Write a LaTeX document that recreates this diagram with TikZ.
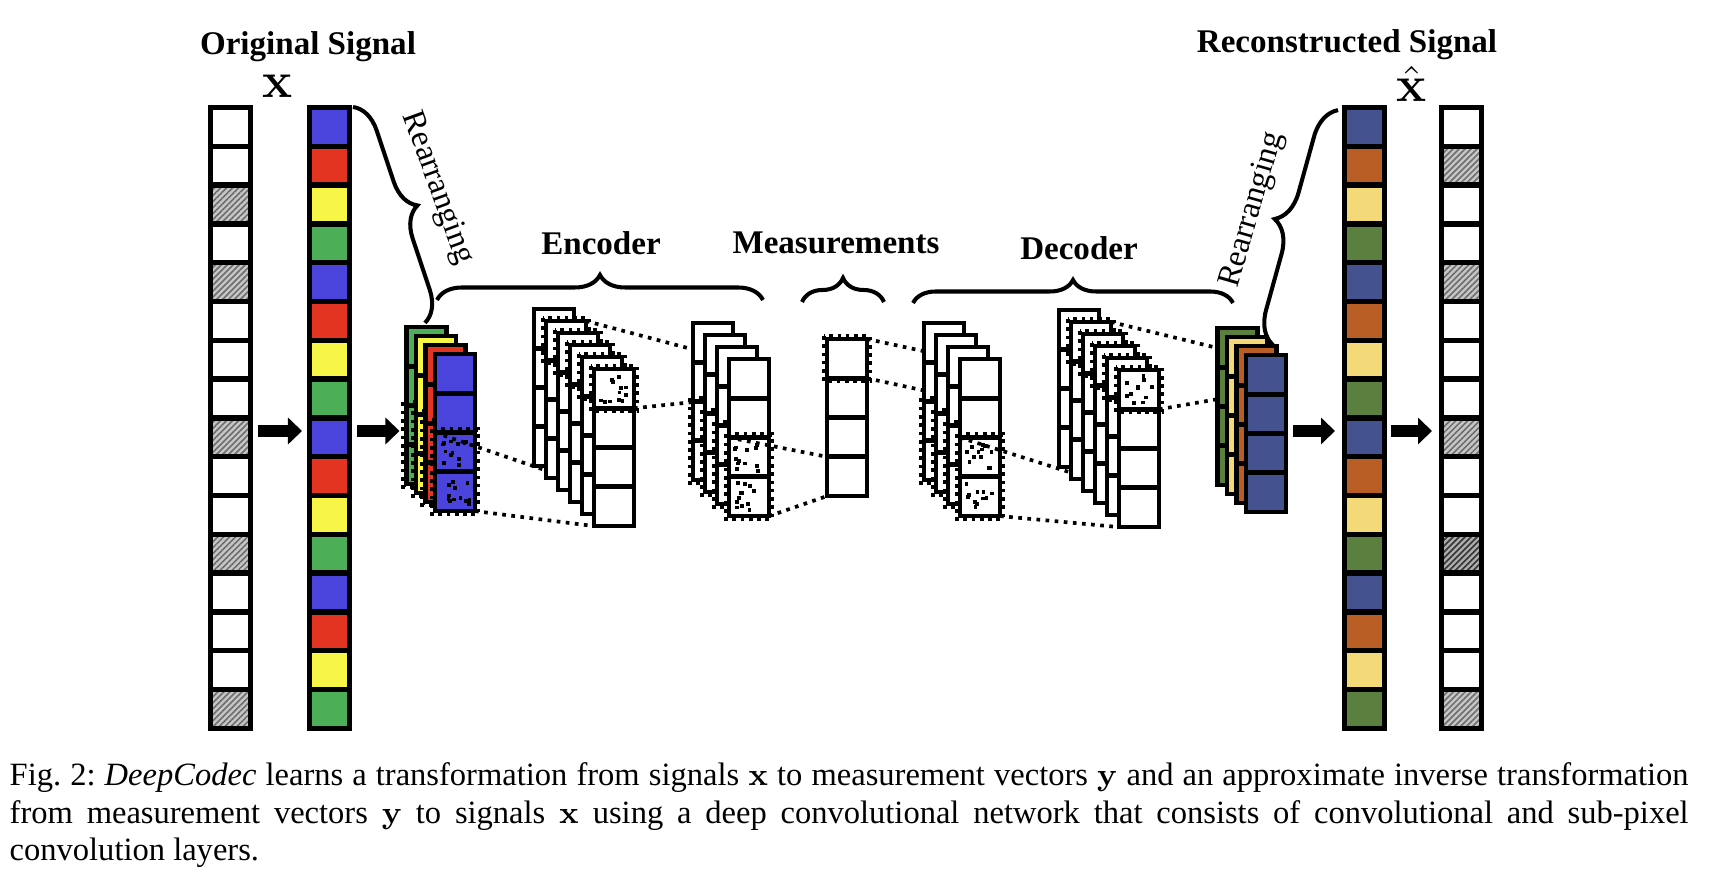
\documentclass[tikz,border=0pt]{standalone}
\usepackage[no-math]{fontspec}
\setmainfont{Liberation Serif}
\usetikzlibrary{calc,decorations.pathreplacing,patterns.meta,arrows.meta}
\definecolor{cB}{HTML}{4A44DC}
\definecolor{cR}{HTML}{E33321}
\definecolor{cY}{HTML}{F7F545}
\definecolor{cG}{HTML}{4DAE58}
\definecolor{dB}{HTML}{44538F}
\definecolor{dO}{HTML}{B85E25}
\definecolor{dY}{HTML}{F3D978}
\definecolor{dG}{HTML}{5A7F3E}
\pgfdeclarelayer{l1}\pgfdeclarelayer{l2}\pgfdeclarelayer{l3}\pgfdeclarelayer{l4}
\pgfdeclarelayer{l5}\pgfdeclarelayer{l6}\pgfdeclarelayer{l7}
\pgfsetlayers{main,l1,l2,l3,l4,l5,l6,l7}
\tikzset{
  colbox/.style={draw, line width=1.5pt, minimum width=0.4cm, minimum height=6.208cm, inner sep=0pt, outer sep=0pt},
  colline/.style={line width=1.5pt},
  layerbox/.style={draw, line width=1.35pt, minimum width=0.4cm, minimum height=1.57cm, inner sep=0pt, outer sep=0pt},
  layline/.style={line width=1.35pt},
  dotbox/.style={line width=1.15pt, dash pattern=on 1.05pt off 1.3pt},
  conn/.style={line width=1.05pt, dash pattern=on 1.05pt off 1.55pt},
  fat/.style={line width=3.4pt, -{Triangle[length=0.14cm,width=0.26cm]}},
  brc/.style={decorate, line width=1.15pt},
  hdr/.style={font=\fontsize{9.4pt}{11pt}\selectfont\bfseries, inner sep=0pt},
  rr/.style={font=\fontsize{9.2pt}{11pt}\selectfont, inner sep=0pt},
  mx/.style={font=\fontsize{15pt}{18pt}\selectfont, inner sep=0pt},
  gH/.style={fill=gray!45, postaction={pattern={Lines[angle=45,distance=1.2pt,line width=0.45pt]}, pattern color=gray!85!black}},
  gD/.style={fill=gray!65, postaction={pattern={Lines[angle=45,distance=1.2pt,line width=0.45pt]}, pattern color=gray!40!black}},
}
% signal column: name, x, y, list of index/colour
\newcommand\sigcol[4]{%
  \foreach \i/\c in {#4} {\fill[\c] (#2,{#3+\i*38.8}) rectangle ++(40,38.8);}
  \node[colbox, anchor=north west] (#1) at (#2,#3) {};
  \foreach \k in {1,...,15} {\draw[colline] (#2,{#3+\k*38.8}) -- ++(40,0);}
}
% layer of 4 cells: name, x, y, fill
\newcommand\nnlayer[4]{%
  \node[layerbox, fill=#4, anchor=north west] (#1) at (#2,#3) {};
  \foreach \k in {1,2,3} {\draw[layline] (#2,{#3+\k*39.25}) -- ++(40,0);}
}
% dotted box: x, y, number of cells, first cell
\newcommand\dotbx[4]{\draw[dotbox] ({#1-3},{#2+#4*39.25-3}) rectangle ({#1+43},{#2+(#4+#3)*39.25+3});}
% random dots in one cell: x, y of cell
\newcommand\rnddots[2]{%
  \foreach \q in {1,...,12} {%
    \pgfmathsetmacro\rx{#1+4+29*rnd}\pgfmathsetmacro\ry{#2+4+28*rnd}%
    \fill (\rx,\ry) rectangle ++(3.8,3.8);}
}
\begin{document}
\begin{tikzpicture}[x=0.01cm,y=-0.01cm]
\useasboundingbox (0,0) rectangle (1718,880);
\pgfmathsetseed{7}
\coordinate (ay) at (0,431);

% ---------- signal columns ----------
\sigcol{xin}{210.5}{107.5}{0/white,1/white,2/gH,3/white,4/gH,5/white,6/white,7/white,8/gH,9/white,10/white,11/gH,12/white,13/white,14/white,15/gH}
\sigcol{xc}{309.5}{107.5}{0/cB,1/cR,2/cY,3/cG,4/cB,5/cR,6/cY,7/cG,8/cB,9/cR,10/cY,11/cG,12/cB,13/cR,14/cY,15/cG}
\sigcol{rc}{1344.5}{107.5}{0/dB,1/dO,2/dY,3/dG,4/dB,5/dO,6/dY,7/dG,8/dB,9/dO,10/dY,11/dG,12/dB,13/dO,14/dY,15/dG}
\sigcol{xout}{1441.5}{107.5}{0/white,1/gH,2/white,3/white,4/gH,5/white,6/white,7/white,8/gH,9/white,10/white,11/gD,12/white,13/white,14/white,15/gH}

% ---------- stack 1 (rearranged input) ----------
\begin{pgfonlayer}{l1}
\foreach \j/\c in {0/cG,1/cY,2/cR,3/cB} {
  \pgfmathsetmacro\lx{435-(3-\j)*9.5}\pgfmathsetmacro\ly{354-(3-\j)*9}
  \nnlayer{s1-\j}{\lx}{\ly}{\c}
  \dotbx{\lx}{\ly}{2}{2}
}
\rnddots{435}{432.5}\rnddots{435}{471.75}
\end{pgfonlayer}

% ---------- stack 2 ----------
\begin{pgfonlayer}{l2}
\foreach \j in {0,...,5} {
  \pgfmathsetmacro\lx{594-(5-\j)*12}\pgfmathsetmacro\ly{369-(5-\j)*12}
  \nnlayer{s2-\j}{\lx}{\ly}{white}
  \ifnum\j>0 \dotbx{\lx}{\ly}{1}{0}\fi
}
\rnddots{594}{369}
\end{pgfonlayer}

% ---------- stack 3 ----------
\begin{pgfonlayer}{l3}
\foreach \j in {0,...,3} {
  \pgfmathsetmacro\lx{729-(3-\j)*12}\pgfmathsetmacro\ly{359-(3-\j)*12}
  \nnlayer{s3-\j}{\lx}{\ly}{white}
  \dotbx{\lx}{\ly}{2}{2}
}
\rnddots{729}{437.5}\rnddots{729}{476.75}
\end{pgfonlayer}

% ---------- measurements ----------
\begin{pgfonlayer}{l4}
\nnlayer{m}{827}{339}{white}
\dotbx{827}{339}{1}{0}
\end{pgfonlayer}

% ---------- stack 4 ----------
\begin{pgfonlayer}{l5}
\foreach \j in {0,...,3} {
  \pgfmathsetmacro\lx{960-(3-\j)*12}\pgfmathsetmacro\ly{359-(3-\j)*12}
  \nnlayer{s4-\j}{\lx}{\ly}{white}
  \dotbx{\lx}{\ly}{2}{2}
}
\rnddots{960}{437.5}\rnddots{960}{476.75}
\end{pgfonlayer}

% ---------- stack 5 ----------
\begin{pgfonlayer}{l6}
\foreach \j in {0,...,5} {
  \pgfmathsetmacro\lx{1119-(5-\j)*12}\pgfmathsetmacro\ly{370-(5-\j)*12}
  \nnlayer{s5-\j}{\lx}{\ly}{white}
  \ifnum\j>0 \dotbx{\lx}{\ly}{1}{0}\fi
}
\rnddots{1119}{370}
\end{pgfonlayer}

% ---------- stack 6 (rearranged output) ----------
\begin{pgfonlayer}{l7}
\foreach \j/\c in {0/dG,1/dY,2/dO,3/dB} {
  \pgfmathsetmacro\lx{1246-(3-\j)*9.5}\pgfmathsetmacro\ly{355-(3-\j)*9}
  \nnlayer{s6-\j}{\lx}{\ly}{\c}
}
\end{pgfonlayer}

% ---------- dotted projection lines ----------
\begin{pgfonlayer}{l1}
\draw[conn] ($(s1-3.north west)!0.5!(s1-3.south west)$) -- ($(s2-5.north west)!0.75!(s2-5.south west)$);
\draw[conn] (s1-3.south east) -- (s2-5.south west);
\end{pgfonlayer}
\begin{pgfonlayer}{l2}
\draw[conn] (s2-1.north east) -- (s3-3.north west);
\draw[conn] ($(s2-5.north east)!0.25!(s2-5.south east)$) -- ($(s3-3.north west)!0.25!(s3-3.south west)$);
\end{pgfonlayer}
\begin{pgfonlayer}{l3}
\draw[conn] ($(s3-3.north west)!0.5!(s3-3.south west)$) -- ($(m.north west)!0.75!(m.south west)$);
\draw[conn] (s3-3.south east) -- (m.south west);
\end{pgfonlayer}
\begin{pgfonlayer}{l4}
\draw[conn] (m.north east) -- (s4-3.north west);
\draw[conn] ($(m.north east)!0.25!(m.south east)$) -- ($(s4-3.north west)!0.25!(s4-3.south west)$);
\end{pgfonlayer}
\begin{pgfonlayer}{l5}
\draw[conn] ($(s4-3.north west)!0.5!(s4-3.south west)$) -- ($(s5-5.north west)!0.75!(s5-5.south west)$);
\draw[conn] (s4-3.south east) -- (s5-5.south west);
\end{pgfonlayer}
\begin{pgfonlayer}{l6}
\draw[conn] (s5-1.north east) -- (s6-3.north west);
\draw[conn] ($(s5-5.north east)!0.25!(s5-5.south east)$) -- ($(s6-3.north west)!0.25!(s6-3.south west)$);
\end{pgfonlayer}

% ---------- fat arrows ----------
\draw[fat] ($(xin.east |- ay)+(7.5,0)$) -- ($(xc.west |- ay)+(-7.5,0)$);
\draw[fat] ($(xc.east |- ay)+(7.5,0)$) -- ($(s1-0.west |- ay)+(-7,0)$);
\draw[fat] ($(s6-3.east |- ay)+(7,0)$) -- ($(rc.west |- ay)+(-9.5,0)$);
\draw[fat] ($(rc.east |- ay)+(6.5,0)$) -- ($(xout.west |- ay)+(-9.5,0)$);

% ---------- braces ----------
\coordinate (lbA) at (353,107); \coordinate (lbB) at (425,323);
\coordinate (rbA) at (1273,345); \coordinate (rbB) at (1338,110);
\coordinate (ebA) at (437,300); \coordinate (ebB) at (763,300);
\coordinate (mbA) at (802,302); \coordinate (mbB) at (884,302);
\coordinate (dbA) at (913,303); \coordinate (dbB) at (1233,303);
\draw[brc, decoration={brace, amplitude=0.3cm}] (lbA) -- (lbB);
\draw[brc, decoration={brace, amplitude=0.32cm}] (rbA) -- (rbB);
\draw[brc, decoration={brace, amplitude=0.25cm}] (ebA) -- (ebB);
\draw[brc, decoration={brace, amplitude=0.24cm}] (mbA) -- (mbB);
\draw[brc, decoration={brace, amplitude=0.23cm}] (dbA) -- (dbB);

% ---------- labels ----------
\node[hdr, anchor=base] (tOrig) at (308,55) {Original Signal};
\node[mx, anchor=base] (tx) at (278,98) {$\mathbf{x}$};
\node[hdr, anchor=base] (tRec) at (1347,53) {Reconstructed Signal};
\node[mx, anchor=base] (txh) at (1412,102) {$\hat{\mathbf{x}}$};
\node[hdr, anchor=base] (tEnc) at (601,255) {Encoder};
\node[hdr, anchor=base] (tMeas) at (836,254) {Measurements};
\node[hdr, anchor=base] (tDec) at (1079,260) {Decoder};
\node[rr, rotate=-70] (tRL) at (437,188) {Rearranging};
\node[rr, rotate=74] (tRR) at (1253,210) {Rearranging};

% ---------- caption ----------
\node[anchor=north west, text width=16.78cm, align=justify, inner sep=0pt,
      font=\fontsize{9.25pt}{10.67pt}\selectfont] (cap) at (9,762)
 {\frenchspacing Fig.~2: \textit{DeepCodec} learns a transformation from signals $\mathbf{x}$ to measurement vectors $\mathbf{y}$ and an approximate inverse transformation\linebreak from measurement vectors $\mathbf{y}$ to signals $\mathbf{x}$ using a deep convolutional network that consists of convolutional and sub-pixel\linebreak convolution layers.};
\end{tikzpicture}
\end{document}
